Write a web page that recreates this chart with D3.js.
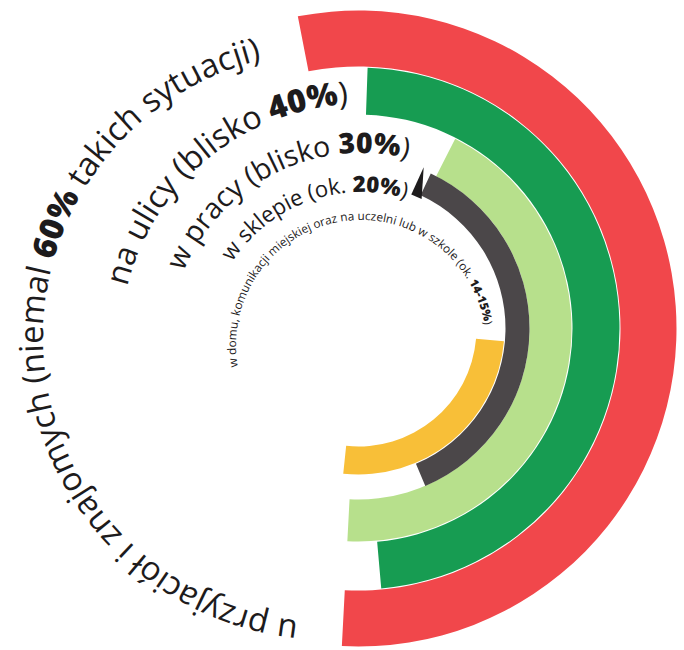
<!DOCTYPE html>
<html>
<head>
<meta charset="utf-8">
<script src="https://cdn.jsdelivr.net/npm/d3@7"></script>
<style>
  body { margin: 0; background: #fff; }
  text { font-family: "Open Sans", "Noto Sans", sans-serif; fill: #1d1b1c; }
</style>
</head>
<body>
<svg id="chart" width="684" height="650"></svg>
<script>
// data, outer ring first
const categories = ["u przyjaciół i znajomych", "na ulicy", "w pracy", "w sklepie",
  "w domu, komunikacji miejskiej oraz na uczelni lub w szkole"];
const qualifiers = ["niemal", "blisko", "blisko", "ok.", "ok."];
const shareLabels = ["60%", "40%", "30%", "20%", "14-15%"];
const suffixes = [" takich sytuacji", "", "", "", ""];
const values = [60, 40, 30, 20, 14.5];
// sweep of each ring in degrees, clockwise from 12 o'clock
const arcStartDeg = [-11, 2, 27, 25, 95];
const arcEndDeg = [183, 175, 183, 157, 186];

// layout
const colors = ["#f1474b", "#179c52", "#b7e08c", "#4b4749", "#f8bf38"];
const ringInner = [262, 214, 171, 147, 118];
const ringOuter = [318, 261, 213, 171, 146];
const ringCenter = [358.5, 328.5];
const labelCenter = [[328, 337], [361, 345], [361, 345], [361, 345], [361, 345]];
const labelRadius = [285, 241, 192, 153, 125];
const labelStartDeg = [186, 284, 292.5, 302.8, 260];
const labelEndDeg = [346.6, 357, 374, 377, 441];
const labelFont = [29, 27, 24, 19, 10];

const svg = d3.select("#chart");
const deg = d3.scaleLinear().domain([0, 360]).range([0, 2 * Math.PI]);

const rows = categories.map((c, i) => ({
  cat: c, value: values[i], start: arcStartDeg[i], end: arcEndDeg[i],
  inner: ringInner[i], outer: ringOuter[i], color: colors[i]
}));

const arc = d3.arc()
  .innerRadius(d => d.inner)
  .outerRadius(d => d.outer)
  .startAngle(d => deg(d.start))
  .endAngle(d => deg(d.end));

const rings = svg.append("g")
  .attr("transform", `translate(${ringCenter[0]},${ringCenter[1]})`);

rings.selectAll("path.ring")
  .data(rows)
  .enter().append("path")
    .attr("class", "ring")
    .attr("fill", d => d.color)
    .attr("d", arc);

// black wedge in front of the dark ring
const grey = rows[3];
const wedge = d3.lineRadial()
  .angle(d => deg(d[0]))
  .radius(d => d[1])
  .curve(d3.curveLinearClosed);
rings.append("path")
  .attr("fill", "#1e1c1d")
  .attr("d", wedge([[grey.start - 3, grey.outer + 3], [grey.start - 3.5, grey.inner - 3], [grey.start + 1, grey.inner - 3]]));

// curved labels
const defs = svg.append("defs");
rows.forEach((d, i) => {
  const [cx, cy] = labelCenter[i];
  const a0 = deg(labelStartDeg[i]) - Math.PI / 2;
  const p = d3.path();
  p.arc(cx, cy, labelRadius[i], a0, a0 + 2 * Math.PI * 0.99, false);
  defs.append("path").attr("id", "lp" + i).attr("d", p.toString());

  const text = svg.append("text")
    .attr("font-size", labelFont[i])
    .attr("font-weight", 500);
  const tp = text.append("textPath").attr("href", "#lp" + i);
  tp.append("tspan").text(d.cat + " (" + qualifiers[i] + " ");
  tp.append("tspan").attr("font-weight", 800).text(shareLabels[i]);
  tp.append("tspan").text(suffixes[i] + ")");

  // fit the label to the span it covers in the picture
  const target = labelRadius[i] * deg(labelEndDeg[i] - labelStartDeg[i]);
  const len = text.node().getComputedTextLength();
  if (len > 0) text.attr("font-size", labelFont[i] * target / len);
});
</script>
</body>
</html>
